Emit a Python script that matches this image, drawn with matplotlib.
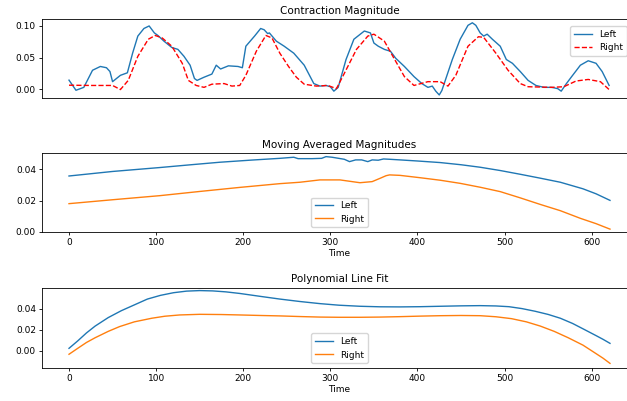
import matplotlib
matplotlib.use("Agg")
import matplotlib.pyplot as plt
import numpy as np

# raw contraction magnitude
left_t = [0, 8, 17, 27, 36, 43, 47, 50, 59, 67, 73, 79, 86, 92, 98, 102, 109, 118, 125, 132,
          139, 144, 147, 155, 164, 169, 174, 183, 194, 199, 203, 213, 220, 224, 228, 230, 238,
          247, 258, 270, 281, 288, 295, 300, 304, 309, 318, 327, 339, 346, 350, 355, 362, 369,
          375, 385, 396, 405, 412, 417, 421, 425, 428, 440, 449, 458, 463, 467, 472, 476, 480,
          486, 495, 502, 509, 518, 527, 536, 545, 554, 561, 565, 571, 577, 587, 596, 605, 612, 620]
left_v = [0.0144, -0.0016, 0.003, 0.03, 0.036, 0.034, 0.028, 0.012, 0.022, 0.026, 0.057, 0.084,
          0.096, 0.1, 0.089, 0.085, 0.076, 0.066, 0.063, 0.052, 0.038, 0.017, 0.014, 0.019, 0.024,
          0.038, 0.032, 0.037, 0.036, 0.034, 0.068, 0.084, 0.096, 0.094, 0.088, 0.089, 0.076,
          0.068, 0.057, 0.038, 0.009, 0.005, 0.006, 0.004, -0.003, 0.003, 0.047, 0.079, 0.092,
          0.089, 0.073, 0.068, 0.063, 0.06, 0.049, 0.036, 0.02, 0.009, 0.003, 0.005, -0.003,
          -0.009, -0.002, 0.047, 0.079, 0.101, 0.105, 0.101, 0.089, 0.084, 0.087, 0.079, 0.068,
          0.047, 0.041, 0.028, 0.014, 0.006, 0.003, 0.003, 0.001, -0.003, 0.009, 0.02, 0.038,
          0.045, 0.041, 0.028, 0.006]
right_t = [0, 25, 50, 59, 68, 79, 91, 99, 107, 118, 130, 137, 146, 155, 164, 178, 187, 196, 203,
           215, 226, 233, 242, 252, 261, 270, 284, 297, 307, 316, 330, 343, 350, 362, 373, 385,
           396, 412, 426, 435, 444, 458, 470, 476, 490, 504, 518, 527, 554, 568, 582, 596, 610, 620]
right_v = [0.0064, 0.006, 0.006, -0.0005, 0.014, 0.052, 0.079, 0.085, 0.081, 0.068, 0.041, 0.014,
           0.006, 0.003, 0.008, 0.009, 0.005, 0.006, 0.022, 0.06, 0.085, 0.081, 0.057, 0.036,
           0.019, 0.008, 0.005, 0.006, 0.001, 0.025, 0.063, 0.084, 0.087, 0.076, 0.049, 0.02,
           0.006, 0.012, 0.012, 0.005, 0.022, 0.068, 0.083, 0.082, 0.057, 0.03, 0.009, 0.004,
           0.003, 0.004, 0.013, 0.0155, 0.012, -0.0005]

# moving averages
ma_left_t = [0, 50, 104, 140, 173, 210, 242, 258, 263, 279, 290, 295, 302, 316, 322, 329, 336,
             343, 348, 355, 361, 368, 380, 400, 426, 450, 472, 495, 518, 541, 564, 590, 605, 621]
ma_left_v = [0.0357, 0.0386, 0.0411, 0.0429, 0.0445, 0.0459, 0.047, 0.0477, 0.0468, 0.0468,
             0.047, 0.0481, 0.0477, 0.0464, 0.0449, 0.046, 0.046, 0.0449, 0.046, 0.0458, 0.0466,
             0.0464, 0.046, 0.0453, 0.0443, 0.0429, 0.0413, 0.0392, 0.0368, 0.0343, 0.0317,
             0.0275, 0.0243, 0.0201]
ma_right_t = [0, 50, 104, 150, 196, 242, 265, 288, 311, 325, 334, 348, 357, 364, 368, 380, 403,
              426, 449, 472, 495, 518, 541, 564, 587, 605, 621]
ma_right_v = [0.018, 0.0205, 0.0231, 0.0258, 0.0284, 0.0308, 0.0317, 0.0332, 0.0332, 0.0321,
              0.0314, 0.0321, 0.0342, 0.0359, 0.0364, 0.0361, 0.0346, 0.033, 0.031, 0.0285,
              0.0257, 0.0217, 0.0175, 0.0135, 0.0086, 0.0052, 0.0017]

# polynomial fits
fit_t = [0, 10, 20, 30, 45, 60, 75, 90, 105, 120, 135, 150, 165, 180, 196, 220, 242, 265, 288,
         310, 334, 357, 380, 403, 426, 450, 472, 490, 505, 520, 535, 550, 564, 578, 591, 605,
         613, 621]
fit_left = [0.0025, 0.0095, 0.017, 0.0235, 0.0315, 0.038, 0.0435, 0.049, 0.0525, 0.055, 0.0565,
            0.057, 0.0567, 0.0558, 0.0543, 0.0515, 0.049, 0.0467, 0.0447, 0.0432, 0.0422,
            0.0417, 0.0416, 0.0418, 0.0422, 0.0426, 0.0428, 0.0425, 0.0418, 0.04, 0.0375,
            0.0345, 0.0309, 0.026, 0.0205, 0.0145, 0.011, 0.0072]
fit_t_r = [0, 10, 20, 30, 45, 58, 75, 95, 110, 127, 150, 175, 196, 220, 242, 265, 288, 310, 334,
           357, 380, 403, 426, 450, 472, 490, 508, 525, 541, 557, 573, 590, 605, 613, 621]
fit_right = [-0.0031, 0.0025, 0.008, 0.0125, 0.0185, 0.023, 0.0275, 0.0309, 0.0328, 0.034,
             0.0346, 0.0344, 0.034, 0.0335, 0.0331, 0.0325, 0.032, 0.0318, 0.0318, 0.032,
             0.0324, 0.0329, 0.0333, 0.0335, 0.0333, 0.0323, 0.0305, 0.0275, 0.0235, 0.0185,
             0.0125, 0.0055, -0.0025, -0.0068, -0.0117]

plt.rcParams['font.size'] = 6.5
plt.rcParams['lines.linewidth'] = 1.0
plt.rcParams['axes.linewidth'] = 0.6
plt.rcParams['xtick.major.size'] = 2.2
plt.rcParams['ytick.major.size'] = 2.2
plt.rcParams['xtick.major.width'] = 0.6
plt.rcParams['ytick.major.width'] = 0.6
plt.rcParams['xtick.major.pad'] = 2.2
plt.rcParams['ytick.major.pad'] = 2.2

fig = plt.figure(figsize=(6.27, 4.01), dpi=100)
L, W = 42 / 627, 595 / 627
ax1 = fig.add_axes([L, 0.755, W, 0.197])
ax2 = fig.add_axes([L, 0.422, W, 0.196])
ax3 = fig.add_axes([L, 0.083, W, 0.200])

ax1.plot(left_t, left_v, label="Left")
ax1.plot(right_t, right_v, 'r--', label="Right")
ax1.set_title("Contraction Magnitude", fontsize=7.5, pad=4)
ax1.set_xticks([])
# the axes runs past the right edge of the figure, so pull the legend in a bit
ax1.legend(loc="upper right", bbox_to_anchor=(0.99, 0.97))

ax2.plot(ma_left_t, ma_left_v, label="Left")
ax2.plot(ma_right_t, ma_right_v, label="Right")
ax2.set_title("Moving Averaged Magnitudes", fontsize=7.5, pad=4)
ax2.set_ylim(0, 0.0503)
ax2.set_xlabel("Time", labelpad=1.5)
ax2.legend(loc="lower center")

ax3.plot(fit_t, fit_left, label="Left")
ax3.plot(fit_t_r, fit_right, label="Right")
ax3.set_title("Polynomial Line Fit", fontsize=7.5, pad=4)
ax3.set_ylim(-0.0158, 0.0599)
ax3.set_xlabel("Time", labelpad=1.5)
ax3.legend(loc="lower center")

for ax in (ax1, ax2, ax3):
    ax.set_xlim(-31, 652)
ax1.set_ylim(-0.0142, 0.1106)
ax2.set_xticks([0, 100, 200, 300, 400, 500, 600])
ax3.set_xticks([0, 100, 200, 300, 400, 500, 600])

fig.savefig("out.png", dpi=100)
